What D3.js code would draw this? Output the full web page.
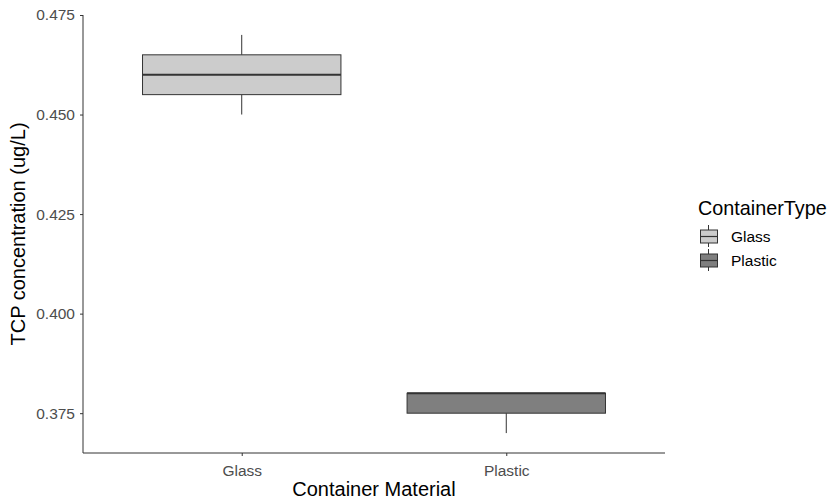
<!DOCTYPE html>
<html>
<head>
<meta charset="utf-8">
<script src="https://cdn.jsdelivr.net/npm/d3@7"></script>
<style>
  body { margin: 0; background: #fff; }
  text { font-family: "Liberation Sans", Arial, sans-serif; }
</style>
</head>
<body>
<svg id="chart" width="832" height="501"></svg>
<script>
// boxplot stats
var materials = ["Glass", "Plastic"];
var whiskerLow = [0.450, 0.370];
var boxLow = [0.455, 0.375];
var medians = [0.460, 0.380];
var boxHigh = [0.465, 0.380];
var whiskerHigh = [0.470, 0.380];
var fills = ["#cccccc", "#7f7f7f"];
var yTicks = [0.375, 0.400, 0.425, 0.450, 0.475];

(function () {
  var svg = d3.select('#chart');
  var pLeft = 83, pRight = 665, pTop = 15, pBottom = 453;

  // ggplot-like discrete scale: centres 0.6 unit in from the edges, boxes 0.75 unit wide
  var unit = (pRight - pLeft) / 2.2;
  var x = d3.scalePoint()
    .domain(materials)
    .range([pLeft + 0.6 * unit, pRight - 0.6 * unit]);
  var boxW = 0.75 * unit;

  var y = d3.scaleLinear().domain([0.365, 0.475]).range([pBottom, pTop]);

  var data = materials.map(function(m, i) {
    return {name: m, wl: whiskerLow[i], q1: boxLow[i], med: medians[i], q3: boxHigh[i], wh: whiskerHigh[i], fill: fills[i]};
  });

  var g = svg.append('g');
  // whiskers
  data.forEach(function(d) {
    g.append('line').attr('x1', x(d.name)).attr('x2', x(d.name))
      .attr('y1', y(d.wh)).attr('y2', y(d.q3))
      .attr('stroke', '#333').attr('stroke-width', 1);
    g.append('line').attr('x1', x(d.name)).attr('x2', x(d.name))
      .attr('y1', y(d.q1)).attr('y2', y(d.wl))
      .attr('stroke', '#333').attr('stroke-width', 1);
  });
  g.selectAll('.box')
    .data(data)
    .enter()
    .append('rect')
    .attr('class', 'box')
    .attr('x', function(d) { return x(d.name) - boxW / 2; })
    .attr('y', function(d) { return y(d.q3); })
    .attr('width', boxW)
    .attr('height', function(d) { return y(d.q1) - y(d.q3); })
    .attr('fill', function(d) { return d.fill; })
    .attr('stroke', '#333')
    .attr('stroke-width', 1);
  g.selectAll('.median')
    .data(data)
    .enter()
    .append('line')
    .attr('class', 'median')
    .attr('x1', function(d) { return x(d.name) - boxW / 2; })
    .attr('x2', function(d) { return x(d.name) + boxW / 2; })
    .attr('y1', function(d) { return y(d.med); })
    .attr('y2', function(d) { return y(d.med); })
    .attr('stroke', '#333')
    .attr('stroke-width', 2);

  // axes
  var yAxis = svg.append('g')
    .attr('transform', 'translate(' + pLeft + ',0)')
    .call(d3.axisLeft(y).tickValues(yTicks).tickFormat(d3.format('.3f')).tickSize(3).tickPadding(5));
  var xAxis = svg.append('g')
    .attr('transform', 'translate(0,' + pBottom + ')')
    .call(d3.axisBottom(x).tickSize(3).tickPadding(9));
  xAxis.select('.domain').remove();
  xAxis.append('line').attr('x1', pLeft).attr('x2', pRight).attr('stroke', '#333');
  yAxis.select('.domain').remove();
  yAxis.append('line').attr('y1', pTop).attr('y2', pBottom).attr('stroke', '#333');
  [yAxis, xAxis].forEach(function(a) {
    a.selectAll('.tick line').attr('stroke', '#333');
    a.selectAll('.tick text').attr('fill', '#4d4d4d').style('font-size', '15.5px')
      .style('font-family', '"Liberation Sans", Arial, sans-serif');
  });

  svg.append('text')
    .attr('x', (pLeft + pRight) / 2).attr('y', 496)
    .attr('text-anchor', 'middle').style('font-size', '20px').attr('fill', '#000')
    .text('Container Material');
  svg.append('text')
    .attr('transform', 'translate(25,' + (pTop + pBottom) / 2 + ') rotate(-90)')
    .attr('text-anchor', 'middle').style('font-size', '20px').attr('fill', '#000')
    .text('TCP concentration (ug/L)');

  // legend
  var leg = svg.append('g');
  leg.append('text').attr('x', 698).attr('y', 215).style('font-size', '19.8px').text('ContainerType');
  var keys = leg.selectAll('.key').data(data).enter().append('g')
    .attr('transform', function(d, i) { return 'translate(700,' + (224 + i * 24) + ')'; });
  keys.append('line').attr('x1', 8.5).attr('x2', 8.5).attr('y1', 1).attr('y2', 23).attr('stroke', '#333');
  keys.append('rect').attr('x', 0.5).attr('y', 6).attr('width', 17).attr('height', 13)
    .attr('fill', function(d) { return d.fill; }).attr('stroke', '#333');
  keys.append('line').attr('x1', 0.5).attr('x2', 17.5).attr('y1', 12.5).attr('y2', 12.5)
    .attr('stroke', '#333').attr('stroke-width', 1.2);
  keys.append('text').attr('x', 31).attr('y', 18).style('font-size', '15.5px').attr('fill', '#000')
    .text(function(d) { return d.name; });
})();
</script>
</body>
</html>
